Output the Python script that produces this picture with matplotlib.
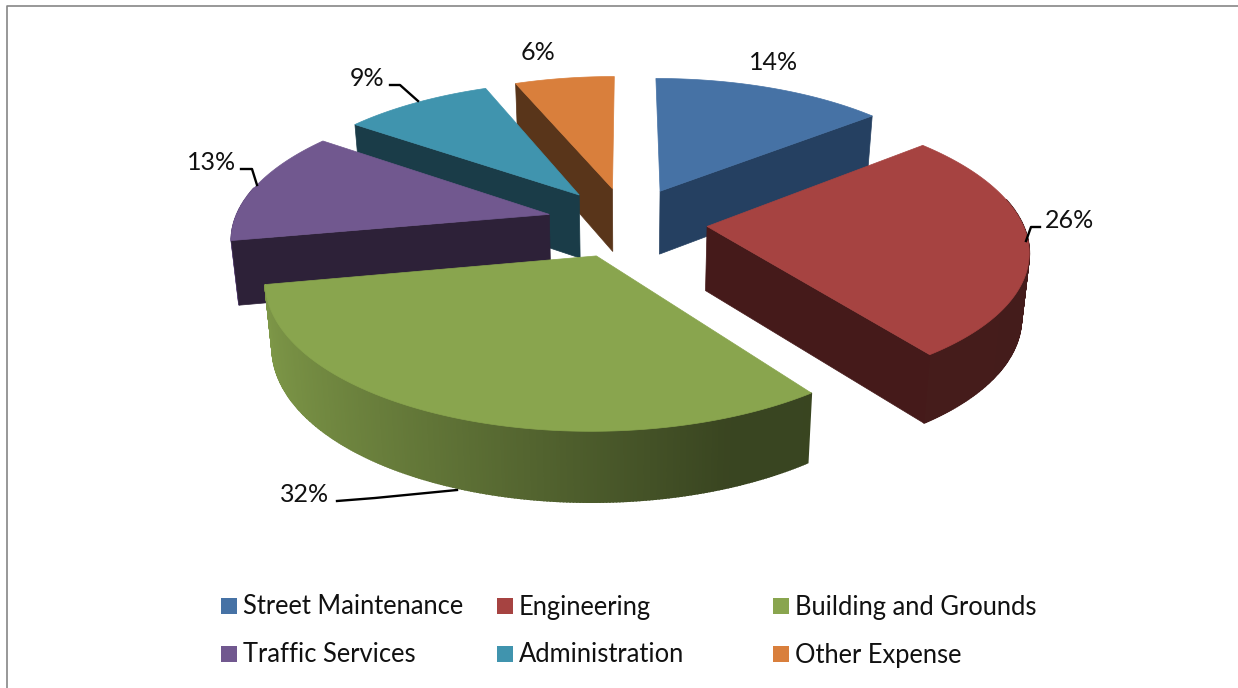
import numpy as np
import matplotlib
matplotlib.use("Agg")
import matplotlib.pyplot as plt
from matplotlib.patches import Polygon, Rectangle
from matplotlib.lines import Line2D

categories = ["Street Maintenance", "Engineering", "Building and Grounds",
              "Traffic Services", "Administration", "Other Expense"]
values = [14, 26, 32, 13, 9, 6]
top_colors = ["#4672a5", "#a64341", "#89a54e", "#71588f", "#4094ae", "#d97f3c"]
cut_colors = ["#254061", "#451a1a", "#38421c", "#2d2138", "#1a3c48", "#59351a"]

# layout of the 3D projection (pixels)
CX, CY, RX, RY, PERSP, H, EXPLODE = 627, 222, 315, 138, 0.149, 64, 0.255

plt.rcParams["font.family"] = ["Lato", "DejaVu Sans"]
fig = plt.figure(figsize=(12.38, 6.88), dpi=100)
ax = fig.add_axes([0, 0, 1, 1])
ax.set_xlim(0, 1238)
ax.set_ylim(688, 0)
ax.axis("off")


def project(X, Y, z):
    X, Y = np.asarray(X, float), np.asarray(Y, float)
    w = 1 + PERSP * Y
    return np.column_stack((CX + RX * X / (w * (1 + 0.02 * z)),
                            CY - RY * Y / w + z * H / np.sqrt(w)))


def shade(color, f):
    return tuple(c * f for c in matplotlib.colors.to_rgb(color))


total = sum(values)
angles = np.deg2rad(np.concatenate(([0], np.cumsum(values) / total * 360)))
wedges = []
for i in range(len(values)):
    a0, a1 = angles[i], angles[i + 1]
    mid = (a0 + a1) / 2
    ox, oy = EXPLODE * np.sin(mid), EXPLODE * np.cos(mid)
    wedges.append((oy, i, a0, a1, ox))

for oy, i, a0, a1, ox in sorted(wedges, key=lambda t: -t[0]):
    th = np.linspace(a0, a1, max(8, int(2 * np.degrees(a1 - a0))))
    X = ox + np.sin(th)
    Y = oy + np.cos(th)
    apex_t, apex_b = project([ox], [oy], 0)[0], project([ox], [oy], 1)[0]
    top, bot = project(X, Y, 0), project(X, Y, 1)
    # curved rim
    for k in range(len(th) - 1):
        if np.cos(th[k]) > 0.2:
            continue
        f = np.interp(np.sin((th[k] + th[k + 1]) / 2), [-1, 0.35, 1], [0.92, 0.42, 0.41])
        col = shade(top_colors[i], f)
        ax.add_patch(Polygon([top[k], top[k + 1], bot[k + 1], bot[k]], closed=True,
                             fc=col, ec=col, lw=1.2))
    # flat cut faces that look toward the viewer
    if np.sin(a0) < -1e-6:
        ax.add_patch(Polygon([apex_t, top[0], bot[0], apex_b], closed=True,
                             fc=cut_colors[i], ec=cut_colors[i], lw=0.5))
    if np.sin(a1) > 1e-6:
        ax.add_patch(Polygon([apex_t, top[-1], bot[-1], apex_b], closed=True,
                             fc=cut_colors[i], ec=cut_colors[i], lw=0.5))
    ax.add_patch(Polygon(np.vstack((apex_t, top)), closed=True,
                         fc=top_colors[i], ec=top_colors[i], lw=0.5))

# chart frame (left and top only)
ax.add_line(Line2D([7, 7, 1238], [688, 6, 6], color="#868686", lw=1.2))

# data labels
label_pos = [(774, 62), (1070, 221), (305, 494), (212, 162), (367, 79), (538, 53)]
for v, (x, y) in zip(values, label_pos):
    ax.text(x, y, f"{v}%", ha="center", va="center", fontsize=18, color="#111111")

# leader lines
leaders = [([1026, 1031, 1040], [241, 227, 227]),
           ([257, 252, 241], [185, 169, 169]),
           ([418, 400, 390], [101, 85, 85]),
           ([457, 375, 337], [490, 498, 501])]
for xs, ys in leaders:
    ax.add_line(Line2D(xs, ys, color="black", lw=1.7))

# legend
leg_x = [221, 497, 773]
leg_y = [606, 654]
for i, name in enumerate(categories):
    x, y = leg_x[i % 3], leg_y[i // 3]
    ax.add_patch(Rectangle((x, y - 8), 16, 16, fc=top_colors[i], ec="none"))
    ax.text(x + 22, y + 1, name, ha="left", va="center", fontsize=18.4, color="#111111")

fig.savefig("out.png", dpi=100, facecolor="white")
